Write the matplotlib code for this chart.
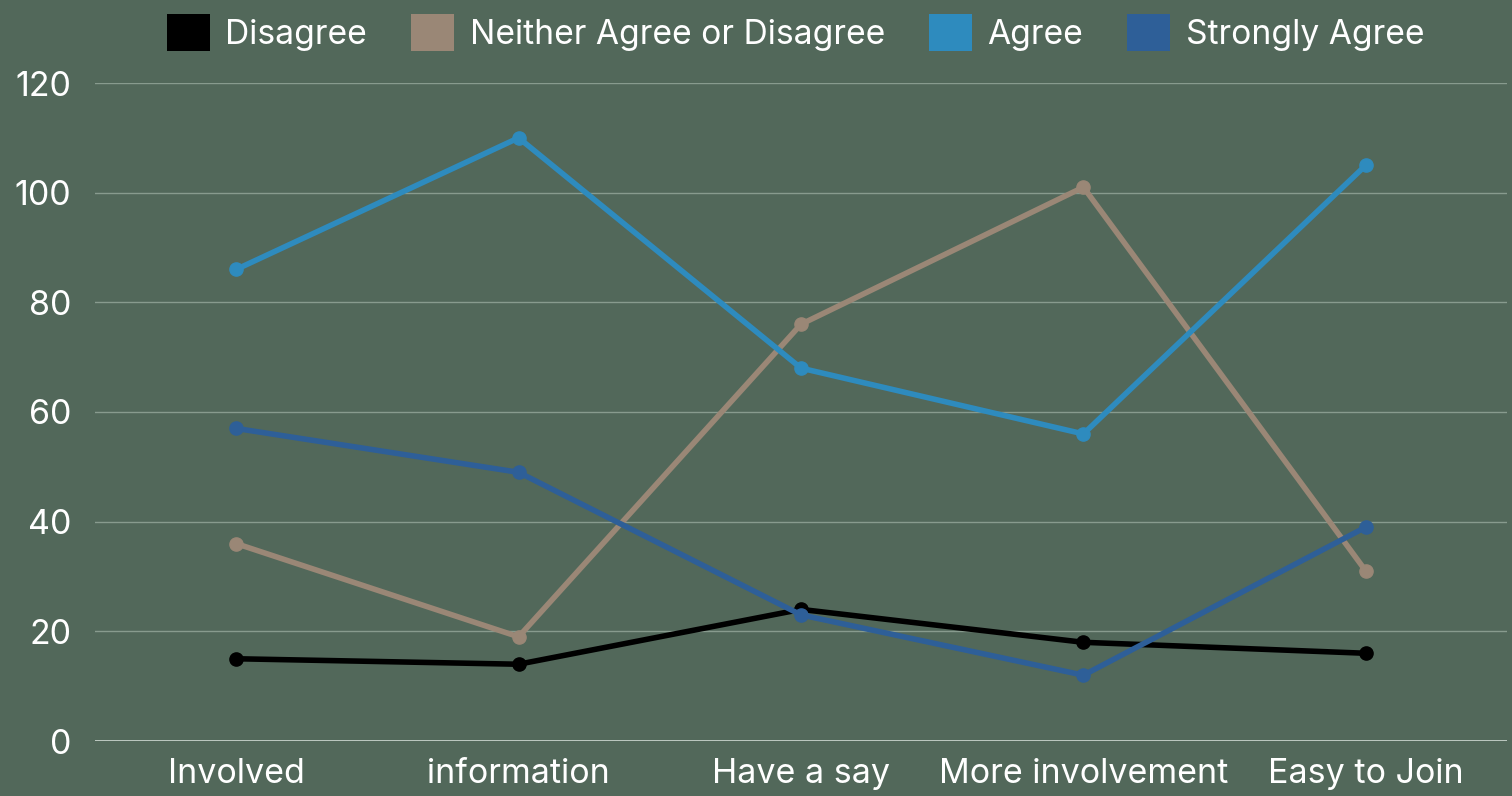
import matplotlib
matplotlib.use("Agg")
import matplotlib.pyplot as plt
from matplotlib.patches import Patch

categories = ["Involved", "information", "Have a say", "More involvement", "Easy to Join"]
disagree = [15, 14, 24, 18, 16]
neither = [36, 19, 76, 101, 31]
agree = [86, 110, 68, 56, 105]
strongly = [57, 49, 23, 12, 39]
series_names = ["Disagree", "Neither Agree or Disagree", "Agree", "Strongly Agree"]
colors = ["#000000", "#9a8776", "#2e8bbe", "#2e5f98"]
yticks = [0, 20, 40, 60, 80, 100, 120]

bg = "#52685a"
plt.rcParams['font.family'] = ['Inter', 'DejaVu Sans']

fig = plt.figure(figsize=(15.12, 7.96), dpi=100, facecolor=bg)
ax = fig.add_axes([95/1512, 1-741/796, 1412/1512, (741-83)/796])
ax.set_facecolor(bg)

x = list(range(len(categories)))
for vals, c, n in zip([disagree, neither, agree, strongly], colors, series_names):
    ax.plot(x, vals, color=c, lw=4.0, marker='o', ms=9.5, label=n, zorder=3,
            solid_capstyle='round')

ax.set_xlim(-0.5, len(categories) - 0.5)
ax.set_ylim(0, 120)
ax.set_yticks(yticks)
ax.set_xticks(x)
ax.set_xticklabels(categories)
ax.grid(axis='y', color='#889b8e', lw=1, zorder=1)
ax.set_axisbelow(True)
for s in ax.spines.values():
    s.set_visible(False)
ax.axhline(0, color='#c5d0c8', lw=1.3, zorder=2)
ax.tick_params(axis='both', length=0, labelsize=24.5, labelcolor='white')
ax.tick_params(axis='y', pad=17)
ax.tick_params(axis='x', pad=12)

handles = [Patch(facecolor=c, edgecolor='none') for c in colors]
leg = fig.legend(handles, series_names, loc='upper center', bbox_to_anchor=(0.526, 1.02),
                 ncol=4, frameon=False, fontsize=24.2, handlelength=1.3, handleheight=1.3,
                 handletextpad=0.45, columnspacing=1.3)
for t in leg.get_texts():
    t.set_color('white')

fig.savefig("out.png", dpi=100, facecolor=bg)
